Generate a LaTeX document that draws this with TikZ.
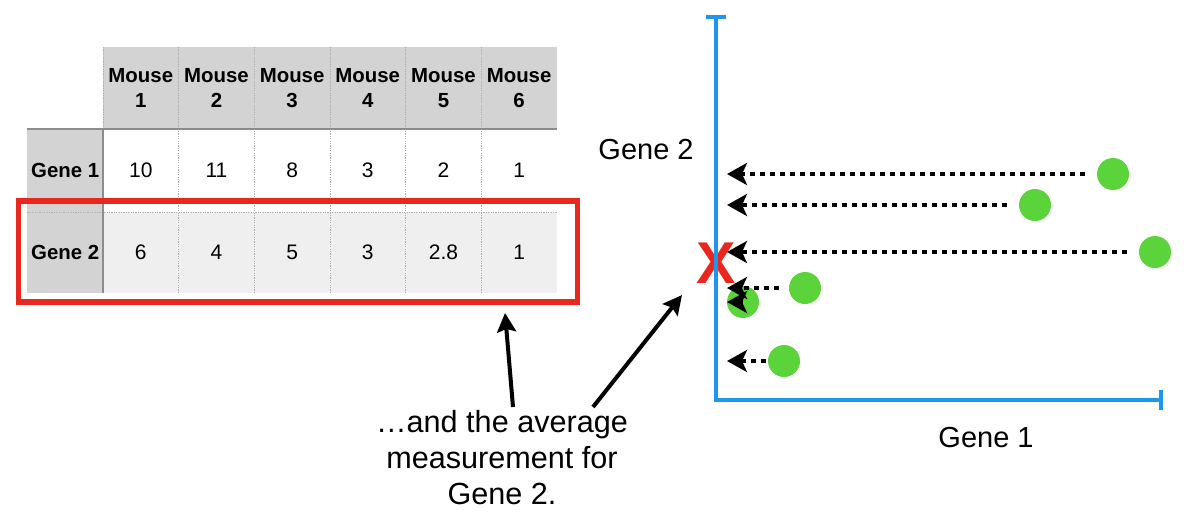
\documentclass[tikz,border=0pt]{standalone}
\usepackage{fontspec}
\setmainfont{Liberation Sans}
\usepackage{xcolor}
\usetikzlibrary{positioning, arrows.meta}

\definecolor{headgray}{HTML}{D3D3D3}
\definecolor{rowgray}{HTML}{EFEFEF}
\definecolor{linegray}{HTML}{8C8C8C}
\definecolor{boxred}{HTML}{E8271E}
\definecolor{axisblue}{HTML}{1E96F0}
\definecolor{dotgreen}{HTML}{5BD33A}

\begin{document}
\begin{tikzpicture}[
        x=0.5pt, y=-0.5pt,
        node distance=0pt,
        headcell/.style={rectangle, minimum width=37.83pt, minimum height=41pt, inner sep=0pt, outer sep=0pt, fill=headgray, align=center, font=\bfseries\fontsize{10.2}{12.5}\selectfont},
        rowhead/.style={rectangle, minimum width=37.75pt, inner sep=0pt, outer sep=0pt, fill=headgray, font=\bfseries\fontsize{10.2}{12}\selectfont},
        valcell/.style={rectangle, minimum width=37.83pt, minimum height=41.5pt, inner sep=0pt, outer sep=0pt, text centered, font=\fontsize{10.5}{12}\selectfont},
        lowcell/.style={valcell, minimum height=40.5pt, fill=rowgray},
        dotline/.style={linegray!70, line width=0.4pt, dash pattern=on 0.6pt off 0.6pt},
        rule/.style={linegray, line width=0.9pt},
        dot/.style={circle, fill=dotgreen, minimum size=16pt, inner sep=0pt},
        proj/.style={black, line width=2.4pt, dash pattern=on 2.4pt off 2.6pt, shorten <=6pt, -{Stealth[length=10pt, width=11pt, inset=2.5pt]}},
        pointer/.style={black, line width=2pt, -{Stealth[length=9.5pt, width=9.5pt, inset=1.5pt]}},
        label/.style={font=\fontsize{14.5}{18}\selectfont}
    ]
        \useasboundingbox (0,0) rectangle (1204,526);

        % ===== 表格 =====
        \node (m1) [headcell] at (140.8,88) {Mouse\\1};
        \node (m2) [headcell, right=of m1] {Mouse\\2};
        \node (m3) [headcell, right=of m2] {Mouse\\3};
        \node (m4) [headcell, right=of m3] {Mouse\\4};
        \node (m5) [headcell, right=of m4] {Mouse\\5};
        \node (m6) [headcell, right=of m5] {Mouse\\6};

        \node (g1m1) [valcell, below=of m1] {10};
        \node (g1m2) [valcell, below=of m2] {11};
        \node (g1m3) [valcell, below=of m3] {8};
        \node (g1m4) [valcell, below=of m4] {3};
        \node (g1m5) [valcell, below=of m5] {2};
        \node (g1m6) [valcell, below=of m6] {1};

        \node (g2m1) [lowcell, below=of g1m1] {6};
        \node (g2m2) [lowcell, below=of g1m2] {4};
        \node (g2m3) [lowcell, below=of g1m3] {5};
        \node (g2m4) [lowcell, below=of g1m4] {3};
        \node (g2m5) [lowcell, below=of g1m5] {2.8};
        \node (g2m6) [lowcell, below=of g1m6] {1};

        \node (gene1) [rowhead, minimum height=41.5pt, left=of g1m1] {Gene 1};
        \node (gene2) [rowhead, minimum height=40.5pt, left=of g2m1] {Gene 2};

        % 表格线
        \draw [dotline] (m1.north west) -- (m1.south west);
        \draw [dotline] (m1.north east) -- (g2m1.south east);
        \draw [dotline] (m2.north east) -- (g2m2.south east);
        \draw [dotline] (m3.north east) -- (g2m3.south east);
        \draw [dotline] (m4.north east) -- (g2m4.south east);
        \draw [dotline] (m5.north east) -- (g2m5.south east);
        \draw [dotline] (gene2.north west) -- (g2m6.north east);
        \draw [rule] (gene1.north west) -- (m6.south east);
        \draw [rule] (gene1.north east) -- (gene2.south east);

        % 红框
        \node (avgbox) [draw=boxred, line width=2.75pt, minimum width=279.5pt, minimum height=50.5pt, inner sep=0pt] at (298,251.5) {};

        % ===== 坐标图 =====
        \node (mark) [text=boxred, font=\bfseries\fontsize{29.5}{30}\selectfont] at (716,263) {X};
        \coordinate (ytop) at (716,15);
        \coordinate (origin) at (716,400);
        \coordinate (xend) at (1163,400);
        \coordinate (ytip) at (727,400);
        \draw [axisblue, line width=2pt, {Bar[width=10pt]}-{Bar[width=10pt]}] (ytop) -- (origin) -- (xend);

        \node (ylabel) [label] at (646,149.5) {Gene 2};
        \node (xlabel) [label] at (986,437.5) {Gene 1};

        \node (pt1) [dot] at (1113,174) {};
        \node (pt2) [dot] at (1035,205) {};
        \node (pt3) [dot] at (1155,252) {};
        \node (pt4) [dot] at (805,288) {};
        \node (pt5) [dot] at (743,302) {};
        \node (pt6) [dot] at (784,361) {};

        \draw [proj] (pt1.west) -- (pt1 -| ytip);
        \draw [proj] (pt2.west) -- (pt2 -| ytip);
        \draw [proj] (pt3.west) -- (pt3 -| ytip);
        \draw [proj, shorten <=5pt] (pt4.west) -- (pt4 -| ytip);
        \draw [proj, shorten <=0pt] (pt5.center) -- (pt5 -| ytip);
        \draw [proj, shorten <=1pt] (pt6.west) -- (pt6 -| ytip);

        % ===== 说明文字 =====
        \node (note) [label, align=center, font=\fontsize{15.3}{18}\selectfont] at (502,457.5) {…and the average\\measurement for\\Gene 2.};
        \coordinate (tailA) at (513,407);
        \coordinate (headA) at (505,313);
        \coordinate (tailB) at (593,407);
        \coordinate (headB) at (682,295);
        \draw [pointer] (tailA) -- (headA);
        \draw [pointer] (tailB) -- (headB);

    \end{tikzpicture}
\end{document}
